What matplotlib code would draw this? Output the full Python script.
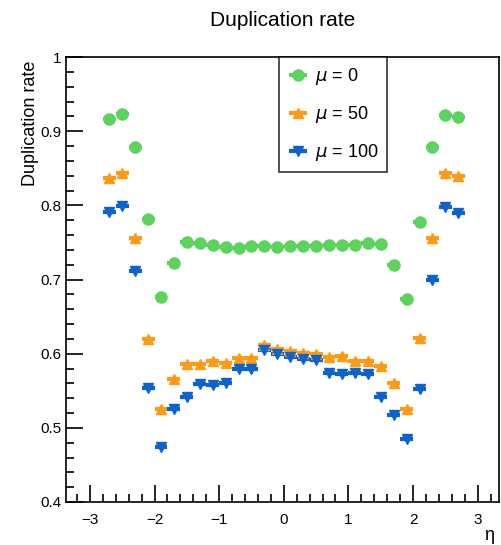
import numpy as np
import matplotlib
matplotlib.use('Agg')
import matplotlib.pyplot as plt
from matplotlib.ticker import MultipleLocator

plt.rcParams['font.family'] = ['Liberation Sans', 'DejaVu Sans']

# ============= Data: duplication rate per eta bin (bin width 0.2)
etaBins = [-2.7, -2.5, -2.3, -2.1, -1.9, -1.7, -1.5, -1.3, -1.1, -0.9, -0.7, -0.5, -0.3, -0.1,
           0.1, 0.3, 0.5, 0.7, 0.9, 1.1, 1.3, 1.5, 1.7, 1.9, 2.1, 2.3, 2.5, 2.7]
dupMu0 = [0.917, 0.923, 0.879, 0.781, 0.676, 0.722, 0.751, 0.749, 0.747, 0.744, 0.743, 0.745, 0.745, 0.744,
          0.745, 0.745, 0.745, 0.746, 0.747, 0.747, 0.749, 0.748, 0.720, 0.674, 0.777, 0.879, 0.922, 0.919]
dupMu50 = [0.837, 0.844, 0.756, 0.620, 0.525, 0.566, 0.586, 0.586, 0.590, 0.587, 0.594, 0.594, 0.612, 0.606,
           0.604, 0.601, 0.600, 0.596, 0.597, 0.590, 0.590, 0.584, 0.560, 0.526, 0.621, 0.756, 0.843, 0.839]
dupMu100 = [0.791, 0.799, 0.711, 0.554, 0.474, 0.526, 0.541, 0.559, 0.558, 0.561, 0.580, 0.580, 0.605, 0.600,
            0.595, 0.593, 0.592, 0.574, 0.572, 0.574, 0.572, 0.541, 0.517, 0.485, 0.553, 0.699, 0.798, 0.789]
binHalfWidth = 0.1

series = [
    (dupMu0, '#5cd35c', 'o', 8.0, r'$\mu$ = 0'),
    (dupMu50, '#ff9a14', '^', 7.0, r'$\mu$ = 50'),
    (dupMu100, '#0c63d0', 'v', 7.0, r'$\mu$ = 100'),
]

# ============= Plot
fig = plt.figure(figsize=(5.02, 5.45), dpi=100)
ax = fig.add_axes([0.1315, 0.0789, 0.8625, 0.8165])

handles = []
for values, color, marker, size, label in series:
    h = ax.errorbar(etaBins, values, xerr=binHalfWidth, fmt=marker, color=color,
                    markersize=size, elinewidth=3, capsize=0, label=label)
    handles.append(h)

ax.set_xlim(-3.37, 3.33)
ax.set_ylim(0.4, 1.0)
ax.xaxis.set_major_locator(MultipleLocator(1))
ax.xaxis.set_minor_locator(MultipleLocator(0.2))
ax.yaxis.set_major_locator(MultipleLocator(0.1))
ax.yaxis.set_minor_locator(MultipleLocator(0.02))
ax.yaxis.set_major_formatter(plt.FuncFormatter(lambda v, p: '1' if abs(v - 1) < 1e-6 else '%.1f' % v))
ax.tick_params(which='both', direction='in', top=False, right=False, labelsize=11, width=1.2)
ax.tick_params(which='major', length=12)
ax.tick_params(which='minor', length=6)
ax.tick_params(axis='x', pad=8)
for spine in ax.spines.values():
    spine.set_linewidth(1.2)

ax.set_ylabel('Duplication rate', fontsize=13, loc='top')
ax.yaxis.set_label_coords(-0.062, 0.992)
fig.text(0.985, 0.018, 'η', ha='right', va='center', fontsize=13)
fig.text(0.563, 0.962, 'Duplication rate', ha='center', va='center', fontsize=15)

leg = ax.legend(handles=handles, loc='upper left', bbox_to_anchor=(0.491, 1.0),
                fontsize=13, frameon=True, fancybox=False, edgecolor='black',
                borderaxespad=0, handlelength=1.2, handletextpad=0.3,
                labelspacing=0.95, borderpad=0.5)
leg.get_frame().set_linewidth(1.2)

fig.savefig('out.png', dpi=100)
